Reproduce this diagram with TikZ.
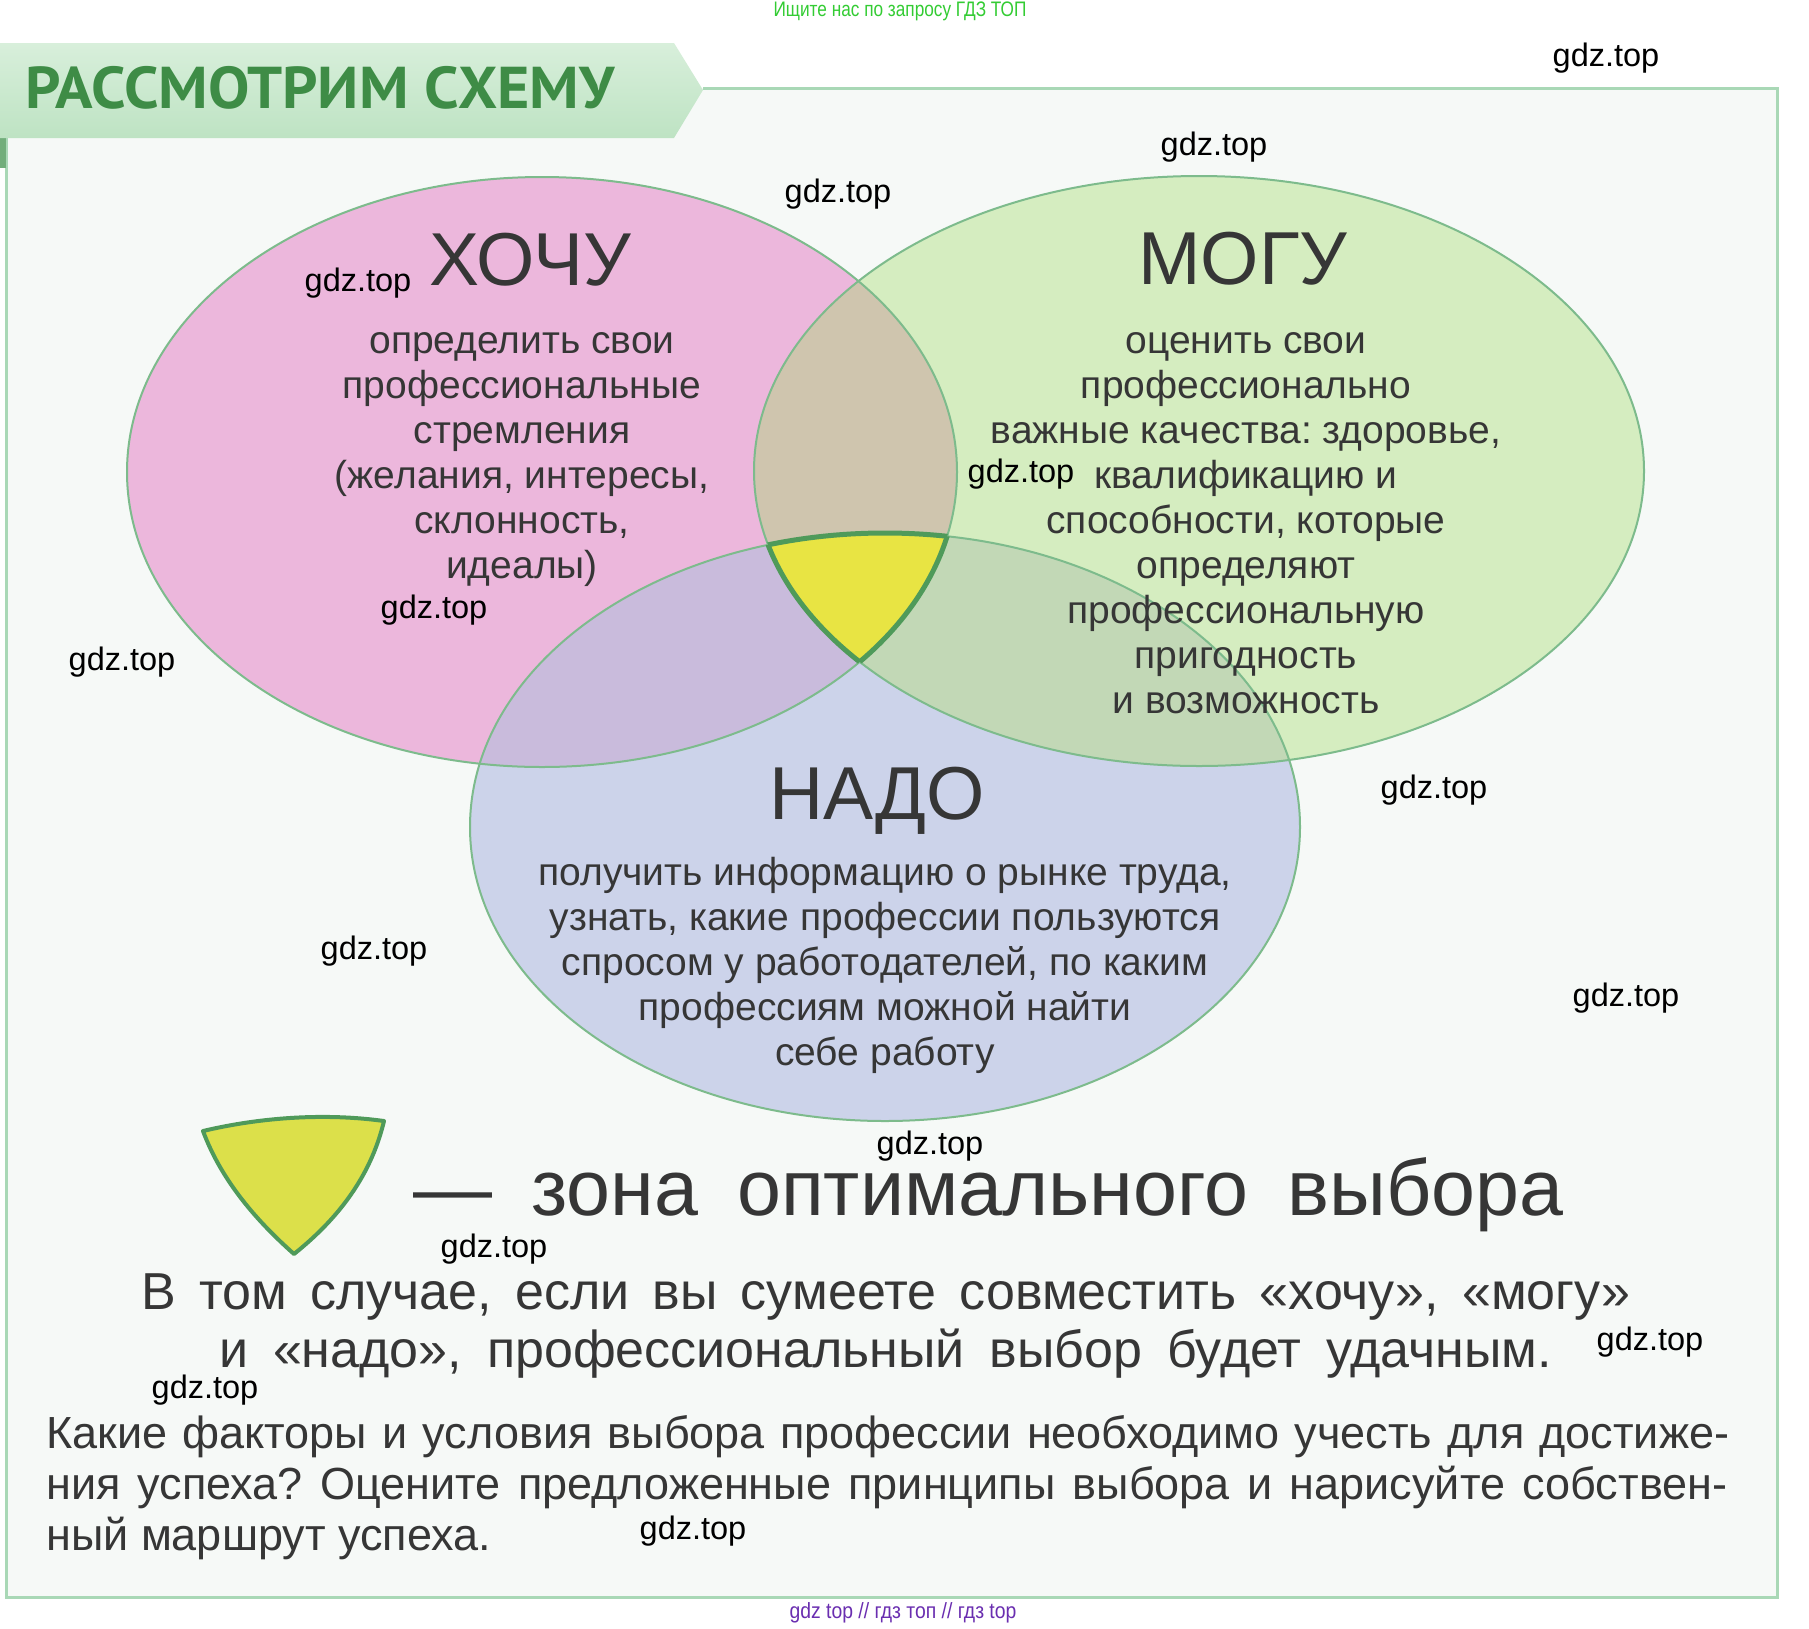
\documentclass[tikz,border=0pt]{standalone}
\usepackage{fontspec}
\setmainfont{Liberation Sans}
\newfontfamily\headfont{PT Sans}
\frenchspacing
\definecolor{pinkc}{HTML}{ECB7DC}
\definecolor{greenc}{HTML}{D5EDC0}
\definecolor{bluec}{HTML}{CCD3EA}
\definecolor{pgc}{HTML}{CFC5AE}
\definecolor{pbc}{HTML}{C9BBDC}
\definecolor{gbc}{HTML}{C2D8B6}
\definecolor{yelc}{HTML}{E8E443}
\definecolor{elline}{HTML}{7DBB8C}
\definecolor{ybord}{HTML}{4F9A5A}
\definecolor{txt}{HTML}{363636}
\definecolor{pagebg}{HTML}{F6F9F7}
\definecolor{framec}{HTML}{A9D8B6}
\definecolor{bannertop}{HTML}{D8EFDB}
\definecolor{bannerbot}{HTML}{BEE3C3}
\definecolor{headtxt}{HTML}{3E8C46}
\definecolor{topgreen}{HTML}{33CC33}
\definecolor{purp}{HTML}{6A2EB0}
\definecolor{legfill}{HTML}{DCE04A}
\def\ellP{(542,472) ellipse [x radius=415pt, y radius=295pt]}
\def\ellG{(1199,471) ellipse [x radius=445pt, y radius=295pt]}
\def\ellB{(885,827) ellipse [x radius=415pt, y radius=294pt]}
\begin{document}
\begin{tikzpicture}[x=1pt,y=-1pt,
  wm/.style={font=\fontsize{32.5}{32.5}\selectfont, text=black, inner sep=0},
  titlet/.style={font=\fontsize{75}{75}\selectfont, text=txt, anchor=base, inner sep=0},
  bodyt/.style={font=\fontsize{39}{45}\selectfont, text=txt, align=center, inner sep=0},
  linet/.style={text=txt, anchor=base west, inner sep=0},
  ybline/.style={draw=ybord, line width=5pt},
  elout/.style={draw=elline, line width=2pt}]
\useasboundingbox (0,0) rectangle (1809,1628);
\fill[white] (0,0) rectangle (1809,1628);
\fill[pagebg] (6,88) rectangle (1777,1597);
% frame
\draw[framec, line width=3pt] (703,88) -- (1777,88) -- (1777,1597) -- (6,1597) -- (6,138);
\draw[ybord!80, line width=6pt] (3,138) -- (3,168);
% banner
\shade[top color=bannertop, bottom color=bannerbot] (0,43) -- (674,43) -- (703,90) -- (674,138) -- (0,138) -- cycle;
\node[anchor=base west, inner sep=0, text=headtxt, font=\headfont\bfseries\fontsize{59}{59}\selectfont] (head) at (25,108) {\scalebox{1.05}[1]{РАССМОТРИМ СХЕМУ}};
% ellipses
\fill[pinkc] \ellP;
\fill[greenc] \ellG;
\fill[bluec] \ellB;
\begin{scope}\clip \ellP; \fill[pgc] \ellG; \end{scope}
\begin{scope}\clip \ellP; \fill[pbc] \ellB; \end{scope}
\begin{scope}\clip \ellG; \fill[gbc] \ellB; \end{scope}
\begin{scope}\clip \ellP; \clip \ellG; \fill[yelc] \ellB; \end{scope}
\draw[elout] \ellP;
\draw[elout] \ellG;
\draw[elout] \ellB;
\begin{scope}\clip \ellP; \clip \ellG; \draw[ybline] \ellB; \end{scope}
\begin{scope}\clip \ellP; \clip \ellB; \draw[ybline] \ellG; \end{scope}
\begin{scope}\clip \ellG; \clip \ellB; \draw[ybline] \ellP; \end{scope}
% titles
\node[titlet] (hochu) at (530,285) {ХОЧУ};
\node[titlet] (mogu) at (1243,284) {МОГУ};
\node[titlet] (nado) at (877,819) {НАДО};
% bodies
\node[bodyt] (hochuT) at (522,460) {определить свои\\профессиональные\\стремления\\(желания, интересы,\\склонность,\\идеалы)};
\node[bodyt] (moguT) at (1246,523) {оценить свои\\профессионально\\важные качества: здоровье,\\квалификацию и\\способности, которые\\определяют\\профессиональную\\пригодность\\и возможность};
\node[bodyt] (nadoT) at (885,965) {получить информацию о рынке труда,\\узнать, какие профессии пользуются\\спросом у работодателей, по каким\\профессиям можной найти\\себе работу};
% legend
\filldraw[fill=legfill, draw=ybord, line width=4pt, line join=round] (203,1131) .. controls (262,1117) and (326,1113) .. (384,1121) .. controls (370,1180) and (334,1222) .. (294,1254) .. controls (258,1222) and (222,1182) .. cycle;
\node[linet, font=\fontsize{79}{79}\selectfont] (zona) at (413,1215) {\makebox[1150pt][s]{— зона оптимального выбора}};
\node[linet, font=\fontsize{52}{58}\selectfont] (l1) at (141,1309) {\makebox[1489pt][s]{В том случае, если вы сумеете совместить «хочу», «могу»}};
\node[linet, font=\fontsize{52}{58}\selectfont] (l2) at (219,1367) {\makebox[1333pt][s]{и «надо», профессиональный выбор будет удачным.}};
\node[linet, font=\fontsize{45}{50}\selectfont] (q1) at (46,1448) {\makebox[1683pt][s]{Какие факторы и условия выбора профессии необходимо учесть для достиже-}};
\node[linet, font=\fontsize{45}{50}\selectfont] (q2) at (46,1499) {\makebox[1681pt][s]{ния успеха? Оцените предложенные принципы выбора и нарисуйте собствен-}};
\node[linet, font=\fontsize{45}{50}\selectfont] (q3) at (46,1550) {ный маршрут успеха.};
% site texts
\node[inner sep=0, text=topgreen, font=\fontsize{21}{21}\selectfont] (top) at (900,11) {\scalebox{0.82}[1]{Ищите нас по запросу ГДЗ ТОП}};
\node[inner sep=0, text=purp, font=\fontsize{22}{22}\selectfont] (bot) at (903,1613) {\scalebox{0.88}[1]{gdz top // гдз топ // гдз top}};
% watermarks
\node[wm] (w1) at (1606,58) {gdz.top};
\node[wm] (w2) at (1214,147) {gdz.top};
\node[wm] (w3) at (838,194) {gdz.top};
\node[wm] (w4) at (358,283) {gdz.top};
\node[wm] (w5) at (1021,474) {gdz.top};
\node[wm] (w6) at (434,610) {gdz.top};
\node[wm] (w7) at (122,662) {gdz.top};
\node[wm] (w8) at (1434,790) {gdz.top};
\node[wm] (w9) at (374,951) {gdz.top};
\node[wm] (w10) at (1626,998) {gdz.top};
\node[wm] (w11) at (930,1146) {gdz.top};
\node[wm] (w12) at (494,1249) {gdz.top};
\node[wm] (w13) at (1650,1342) {gdz.top};
\node[wm] (w14) at (205,1390) {gdz.top};
\node[wm] (w15) at (693,1531) {gdz.top};
\end{tikzpicture}
\end{document}
